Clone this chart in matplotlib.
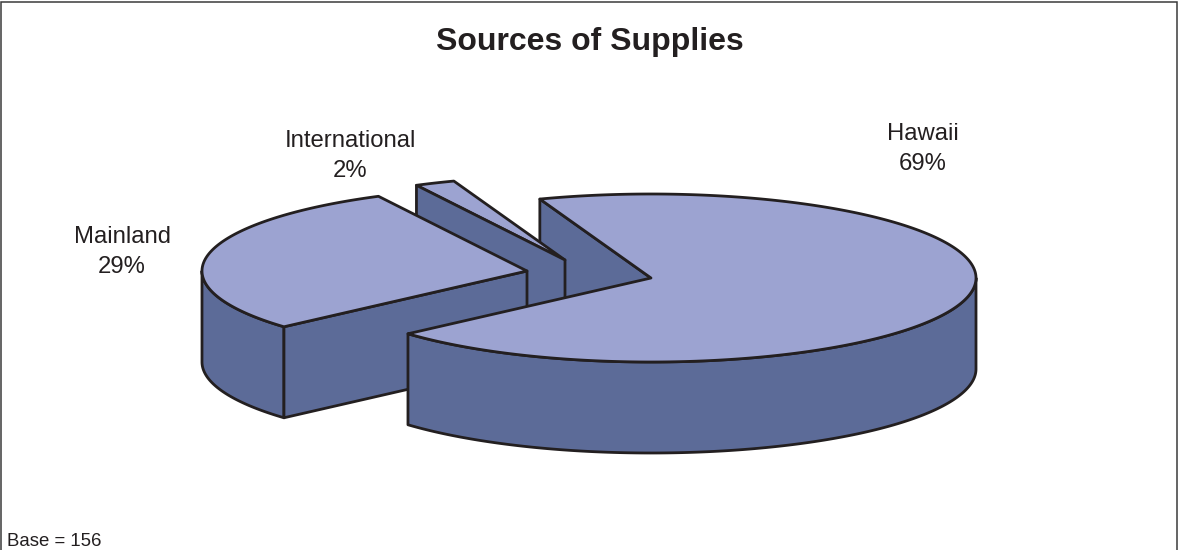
import matplotlib
matplotlib.use("Agg")
import matplotlib.pyplot as plt
import numpy as np
from matplotlib.patches import Polygon

plt.rcParams['font.family'] = ['Liberation Sans', 'DejaVu Sans']

# chart data
categories = ['Hawaii', 'Mainland', 'International']
shares = [69, 29, 2]
title = 'Sources of Supplies'
base_note = 'Base = 156'

# style and layout, in pixels of the figure
TOP_COLOR = '#9ca3d1'
WALL_COLOR = '#5c6b98'
EDGE_COLOR = '#231f20'
RADIUS_X = 325
RADIUS_Y = 84
DEPTH = 91
START_ANGLE = 110
# each slice is pulled out, so each has its own centre
centers = {'Hawaii': (651, 278), 'Mainland': (527, 271), 'International': (565, 260)}
label_pos = {'Hawaii': (923, 149), 'Mainland': (122, 252), 'International': (350, 156)}
LINE_W = 2.0


def rim(center, a0, a1):
    # points on the ellipse between two angles (degrees)
    t = np.radians(np.linspace(a0, a1, max(int(abs(a1 - a0)) * 2, 2)))
    return np.column_stack([center[0] + RADIUS_X * np.cos(t),
                            center[1] - RADIUS_Y * np.sin(t)])


def add_poly(ax, pts, color):
    ax.add_patch(Polygon(pts, closed=True, facecolor=color, edgecolor=EDGE_COLOR,
                         linewidth=LINE_W, joinstyle='round'))


def outer_wall(ax, center, a0, a1):
    # only the part of the rim facing the viewer gets a wall (180..360 deg)
    lo, hi = max(min(a0, a1), 180), min(max(a0, a1), 360)
    if lo >= hi:
        return
    arc = rim(center, lo, hi)
    add_poly(ax, np.vstack([arc, arc[::-1] + [0, DEPTH]]), WALL_COLOR)


def cut_wall(ax, center, angle):
    p = rim(center, angle, angle)[0]
    c = np.array(center, dtype=float)
    add_poly(ax, [p, c, c + [0, DEPTH], p + [0, DEPTH]], WALL_COLOR)


# slice angles going clockwise from the start angle
spans = np.array(shares) / sum(shares) * 360
ends = START_ANGLE - np.cumsum(spans)
starts = ends + spans
slices = {c: (s, e) for c, s, e in zip(categories, starts, ends)}

fig = plt.figure(figsize=(11.78, 5.5), dpi=100)
ax = fig.add_axes([0, 0, 1, 1])
ax.set_xlim(0, 1178)
ax.set_ylim(550, 0)
ax.axis('off')

# back to front
h0, h1 = slices['Hawaii']
cut_wall(ax, centers['Hawaii'], h0)

i0, i1 = slices['International']
add_poly(ax, np.vstack([[centers['International']], rim(centers['International'], i0, i1)]), TOP_COLOR)
cut_wall(ax, centers['International'], i0)

m0, m1 = slices['Mainland']
outer_wall(ax, centers['Mainland'], m0 + 360, m1 + 360)
cut_wall(ax, centers['Mainland'], m0)
add_poly(ax, np.vstack([[centers['Mainland']], rim(centers['Mainland'], m0, m1)]), TOP_COLOR)

outer_wall(ax, centers['Hawaii'], h1 + 360, 360)
add_poly(ax, np.vstack([[centers['Hawaii']], rim(centers['Hawaii'], h0, h1)]), TOP_COLOR)

for cat, share in zip(categories, shares):
    x, y = label_pos[cat]
    ax.text(x, y, f'{cat}\n{share}%', ha='center', va='center', fontsize=17.2,
            color=EDGE_COLOR, linespacing=1.46)

ax.text(590, 42, title, ha='center', va='center', fontsize=23, fontweight='bold',
        color=EDGE_COLOR)
ax.text(7, 549.5, base_note, ha='left', va='bottom', fontsize=13.4, color=EDGE_COLOR)

# frame, open at the bottom
ax.plot([1, 1, 1177, 1177], [550, 1.5, 1.5, 550], color='#3a3a3a', linewidth=1.1,
        solid_joinstyle='miter')

fig.savefig('out.png', dpi=100)
